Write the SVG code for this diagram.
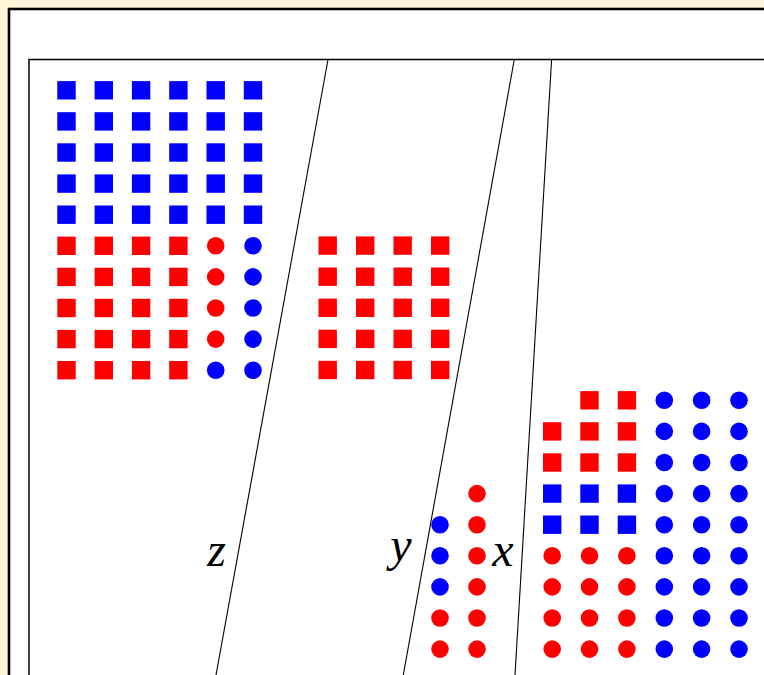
<svg xmlns="http://www.w3.org/2000/svg" xmlns:xlink="http://www.w3.org/1999/xlink" width="764" height="675" viewBox="0 0 764 675">
<style>
.b{fill:#0000ff}
.r{fill:#ff0000}
.ln{stroke:#000;stroke-width:1.1;fill:none}
.lbl{font-family:"Liberation Serif","DejaVu Serif",serif;font-style:italic;font-size:48px;fill:#000;text-anchor:middle}
</style>
<defs>
<rect id="sq" x="-9.2" y="-9.2" width="18.4" height="18.4"/>
<circle id="ci" r="8.8"/>
</defs>
<rect x="0" y="0" width="764" height="675" fill="#fff4d8"/>
<rect x="9" y="9" width="800" height="700" fill="#fff" stroke="#000" stroke-width="2.6"/>
<rect x="29" y="59.5" width="800" height="700" fill="#fff" stroke="#000" stroke-width="1.5"/>
<g id="connectors">
<line class="ln" x1="328" y1="59.5" x2="216" y2="675"/>
<line class="ln" x1="514.3" y1="59.5" x2="403.3" y2="675"/>
<line class="ln" x1="551.6" y1="59.5" x2="515" y2="675"/>
</g>
<g id="grid-left">
<use href="#sq" class="b" x="66.5" y="90.3"/><use href="#sq" class="b" x="103.8" y="90.3"/><use href="#sq" class="b" x="141.1" y="90.3"/><use href="#sq" class="b" x="178.4" y="90.3"/><use href="#sq" class="b" x="215.7" y="90.3"/><use href="#sq" class="b" x="253" y="90.3"/>
<use href="#sq" class="b" x="66.5" y="121.4"/><use href="#sq" class="b" x="103.8" y="121.4"/><use href="#sq" class="b" x="141.1" y="121.4"/><use href="#sq" class="b" x="178.4" y="121.4"/><use href="#sq" class="b" x="215.7" y="121.4"/><use href="#sq" class="b" x="253" y="121.4"/>
<use href="#sq" class="b" x="66.5" y="152.5"/><use href="#sq" class="b" x="103.8" y="152.5"/><use href="#sq" class="b" x="141.1" y="152.5"/><use href="#sq" class="b" x="178.4" y="152.5"/><use href="#sq" class="b" x="215.7" y="152.5"/><use href="#sq" class="b" x="253" y="152.5"/>
<use href="#sq" class="b" x="66.5" y="183.6"/><use href="#sq" class="b" x="103.8" y="183.6"/><use href="#sq" class="b" x="141.1" y="183.6"/><use href="#sq" class="b" x="178.4" y="183.6"/><use href="#sq" class="b" x="215.7" y="183.6"/><use href="#sq" class="b" x="253" y="183.6"/>
<use href="#sq" class="b" x="66.5" y="214.7"/><use href="#sq" class="b" x="103.8" y="214.7"/><use href="#sq" class="b" x="141.1" y="214.7"/><use href="#sq" class="b" x="178.4" y="214.7"/><use href="#sq" class="b" x="215.7" y="214.7"/><use href="#sq" class="b" x="253" y="214.7"/>
<use href="#sq" class="r" x="66.5" y="245.8"/><use href="#sq" class="r" x="103.8" y="245.8"/><use href="#sq" class="r" x="141.1" y="245.8"/><use href="#sq" class="r" x="178.4" y="245.8"/><use href="#ci" class="r" x="215.7" y="245.8"/><use href="#ci" class="b" x="253" y="245.8"/>
<use href="#sq" class="r" x="66.5" y="276.9"/><use href="#sq" class="r" x="103.8" y="276.9"/><use href="#sq" class="r" x="141.1" y="276.9"/><use href="#sq" class="r" x="178.4" y="276.9"/><use href="#ci" class="r" x="215.7" y="276.9"/><use href="#ci" class="b" x="253" y="276.9"/>
<use href="#sq" class="r" x="66.5" y="308"/><use href="#sq" class="r" x="103.8" y="308"/><use href="#sq" class="r" x="141.1" y="308"/><use href="#sq" class="r" x="178.4" y="308"/><use href="#ci" class="r" x="215.7" y="308"/><use href="#ci" class="b" x="253" y="308"/>
<use href="#sq" class="r" x="66.5" y="339.1"/><use href="#sq" class="r" x="103.8" y="339.1"/><use href="#sq" class="r" x="141.1" y="339.1"/><use href="#sq" class="r" x="178.4" y="339.1"/><use href="#ci" class="r" x="215.7" y="339.1"/><use href="#ci" class="b" x="253" y="339.1"/>
<use href="#sq" class="r" x="66.5" y="370.2"/><use href="#sq" class="r" x="103.8" y="370.2"/><use href="#sq" class="r" x="141.1" y="370.2"/><use href="#sq" class="r" x="178.4" y="370.2"/><use href="#ci" class="b" x="215.7" y="370.2"/><use href="#ci" class="b" x="253" y="370.2"/>
</g>
<g id="grid-middle">
<use href="#sq" class="r" x="327.7" y="245.6"/><use href="#sq" class="r" x="365.2" y="245.6"/><use href="#sq" class="r" x="402.7" y="245.6"/><use href="#sq" class="r" x="440.2" y="245.6"/>
<use href="#sq" class="r" x="327.7" y="276.7"/><use href="#sq" class="r" x="365.2" y="276.7"/><use href="#sq" class="r" x="402.7" y="276.7"/><use href="#sq" class="r" x="440.2" y="276.7"/>
<use href="#sq" class="r" x="327.7" y="307.8"/><use href="#sq" class="r" x="365.2" y="307.8"/><use href="#sq" class="r" x="402.7" y="307.8"/><use href="#sq" class="r" x="440.2" y="307.8"/>
<use href="#sq" class="r" x="327.7" y="338.9"/><use href="#sq" class="r" x="365.2" y="338.9"/><use href="#sq" class="r" x="402.7" y="338.9"/><use href="#sq" class="r" x="440.2" y="338.9"/>
<use href="#sq" class="r" x="327.7" y="370"/><use href="#sq" class="r" x="365.2" y="370"/><use href="#sq" class="r" x="402.7" y="370"/><use href="#sq" class="r" x="440.2" y="370"/>
</g>
<g id="grid-small">
<use href="#ci" class="r" x="477" y="493.6"/>
<use href="#ci" class="b" x="440" y="524.7"/><use href="#ci" class="r" x="477" y="524.7"/>
<use href="#ci" class="b" x="440" y="555.8"/><use href="#ci" class="r" x="477" y="555.8"/>
<use href="#ci" class="b" x="440" y="586.9"/><use href="#ci" class="r" x="477" y="586.9"/>
<use href="#ci" class="r" x="440" y="618"/><use href="#ci" class="r" x="477" y="618"/>
<use href="#ci" class="r" x="440" y="649.1"/><use href="#ci" class="r" x="477" y="649.1"/>
</g>
<g id="grid-right">
<use href="#sq" class="r" x="589.5" y="400.3"/><use href="#sq" class="r" x="626.9" y="400.3"/><use href="#ci" class="b" x="664.3" y="400.3"/><use href="#ci" class="b" x="701.6" y="400.3"/><use href="#ci" class="b" x="739" y="400.3"/>
<use href="#sq" class="r" x="552.2" y="431.4"/><use href="#sq" class="r" x="589.5" y="431.4"/><use href="#sq" class="r" x="626.9" y="431.4"/><use href="#ci" class="b" x="664.3" y="431.4"/><use href="#ci" class="b" x="701.6" y="431.4"/><use href="#ci" class="b" x="739" y="431.4"/>
<use href="#sq" class="r" x="552.2" y="462.5"/><use href="#sq" class="r" x="589.5" y="462.5"/><use href="#sq" class="r" x="626.9" y="462.5"/><use href="#ci" class="b" x="664.3" y="462.5"/><use href="#ci" class="b" x="701.6" y="462.5"/><use href="#ci" class="b" x="739" y="462.5"/>
<use href="#sq" class="b" x="552.2" y="493.6"/><use href="#sq" class="b" x="589.5" y="493.6"/><use href="#sq" class="b" x="626.9" y="493.6"/><use href="#ci" class="b" x="664.3" y="493.6"/><use href="#ci" class="b" x="701.6" y="493.6"/><use href="#ci" class="b" x="739" y="493.6"/>
<use href="#sq" class="b" x="552.2" y="524.7"/><use href="#sq" class="b" x="589.5" y="524.7"/><use href="#sq" class="b" x="626.9" y="524.7"/><use href="#ci" class="b" x="664.3" y="524.7"/><use href="#ci" class="b" x="701.6" y="524.7"/><use href="#ci" class="b" x="739" y="524.7"/>
<use href="#ci" class="r" x="552.2" y="555.8"/><use href="#ci" class="r" x="589.5" y="555.8"/><use href="#ci" class="r" x="626.9" y="555.8"/><use href="#ci" class="b" x="664.3" y="555.8"/><use href="#ci" class="b" x="701.6" y="555.8"/><use href="#ci" class="b" x="739" y="555.8"/>
<use href="#ci" class="r" x="552.2" y="586.9"/><use href="#ci" class="r" x="589.5" y="586.9"/><use href="#ci" class="r" x="626.9" y="586.9"/><use href="#ci" class="b" x="664.3" y="586.9"/><use href="#ci" class="b" x="701.6" y="586.9"/><use href="#ci" class="b" x="739" y="586.9"/>
<use href="#ci" class="r" x="552.2" y="618"/><use href="#ci" class="r" x="589.5" y="618"/><use href="#ci" class="r" x="626.9" y="618"/><use href="#ci" class="b" x="664.3" y="618"/><use href="#ci" class="b" x="701.6" y="618"/><use href="#ci" class="b" x="739" y="618"/>
<use href="#ci" class="r" x="552.2" y="649.1"/><use href="#ci" class="r" x="589.5" y="649.1"/><use href="#ci" class="r" x="626.9" y="649.1"/><use href="#ci" class="b" x="664.3" y="649.1"/><use href="#ci" class="b" x="701.6" y="649.1"/><use href="#ci" class="b" x="739" y="649.1"/>
</g>
<g id="labels">
<text class="lbl" x="216.5" y="566">z</text>
<text class="lbl" x="401" y="561">y</text>
<text class="lbl" x="503" y="565.5">x</text>
</g>
</svg>
